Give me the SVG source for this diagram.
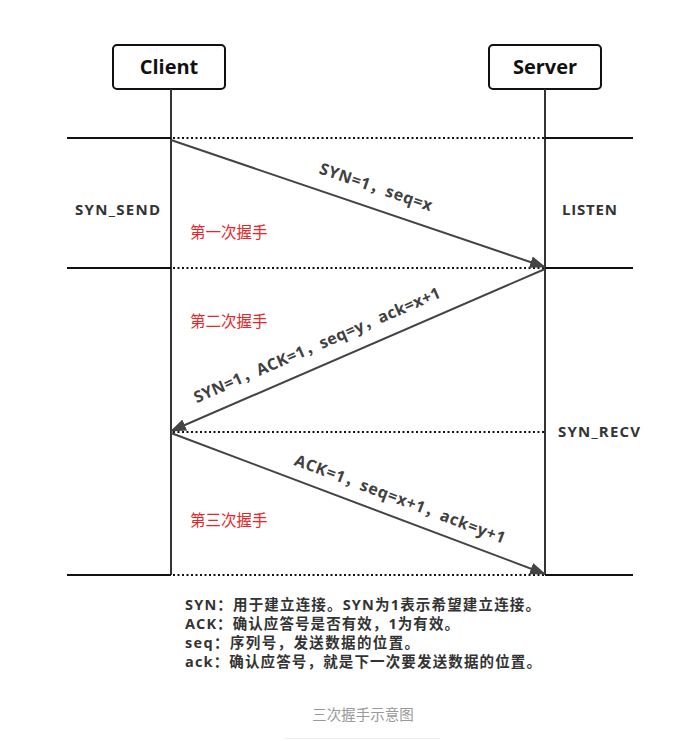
<svg xmlns="http://www.w3.org/2000/svg" width="696" height="741" viewBox="0 0 696 741">
<style>
.box{fill:#fff;stroke:#111;stroke-width:2}
.title{font-family:"Open Sans","Noto Sans CJK SC",sans-serif;font-weight:bold;font-size:20px;fill:#111;text-anchor:middle}
.life{stroke:#333;stroke-width:2;fill:none}
.solid{stroke:#111;stroke-width:2}
.dot{stroke:#111;stroke-width:2;stroke-dasharray:2 2.5}
.arr{stroke:#444;stroke-width:2;fill:none;marker-end:url(#ah)}
.lbl{font-family:"Open Sans","Noto Sans CJK SC",sans-serif;font-weight:bold;font-size:16px;fill:#404040;text-anchor:middle}
.state{font-family:"Open Sans","Noto Sans CJK SC",sans-serif;font-weight:bold;font-size:15px;fill:#333}
.red{font-family:"Noto Sans CJK SC",sans-serif;font-size:15.5px;fill:#e8262a}
.note{font-family:"Open Sans","Noto Sans CJK SC",sans-serif;font-weight:bold;font-size:14.5px;fill:#333}
.cap{font-family:"Noto Sans CJK SC",sans-serif;font-size:14.5px;fill:#999;text-anchor:middle}
</style>
<defs>
<marker id="ah" markerWidth="16" markerHeight="12" refX="15" refY="6" orient="auto" markerUnits="userSpaceOnUse">
<path d="M0,0 L16,6 L0,12 Z" fill="#444"/>
</marker>
</defs>
<rect width="696" height="741" fill="#fff"/>
<g id="client">
<rect class="box" x="113" y="45" width="112" height="44" rx="4"/>
<text class="title" x="169" y="74">Client</text>
</g>
<g id="server">
<rect class="box" x="489" y="45" width="112" height="44" rx="4"/>
<text class="title" x="545" y="74">Server</text>
</g>
<g id="lifelines">
<line class="life" x1="171" y1="89" x2="171" y2="575"/>
<line class="life" x1="545" y1="89" x2="545" y2="575"/>
</g>
<g id="phases">
<line class="solid" x1="67" y1="138" x2="171" y2="138"/>
<line class="dot" x1="173" y1="138" x2="544" y2="138"/>
<line class="solid" x1="545" y1="138" x2="633" y2="138"/>
<line class="solid" x1="67" y1="268" x2="171" y2="268"/>
<line class="dot" x1="173" y1="268" x2="544" y2="268"/>
<line class="solid" x1="545" y1="268" x2="633" y2="268"/>
<line class="dot" x1="173" y1="432" x2="544" y2="432"/>
<line class="solid" x1="67" y1="575" x2="171" y2="575"/>
<line class="dot" x1="173" y1="575" x2="544" y2="575"/>
<line class="solid" x1="545" y1="575" x2="633" y2="575"/>
</g>
<g id="connectors">
<line class="arr" x1="171" y1="140" x2="545" y2="267"/>
<line class="arr" x1="545" y1="269" x2="171" y2="431"/>
<line class="arr" x1="171" y1="433" x2="545" y2="574"/>
</g>
<g id="labels">
<text class="lbl" x="376" y="187" dy="0.35em" textLength="118" lengthAdjust="spacing" transform="rotate(18.8 376 187)">SYN=1，seq=x</text>
<text class="lbl" x="317" y="345" dy="0.35em" textLength="267" lengthAdjust="spacing" transform="rotate(-23.4 317 345)">SYN=1，ACK=1，seq=y，ack=x+1</text>
<text class="lbl" x="400" y="499" dy="0.35em" textLength="224" lengthAdjust="spacing" transform="rotate(20.7 400 499)">ACK=1，seq=x+1，ack=y+1</text>
</g>
<g id="states">
<text class="state" x="75" y="215" textLength="85" lengthAdjust="spacing">SYN_SEND</text>
<text class="state" x="562" y="215" textLength="55" lengthAdjust="spacing">LISTEN</text>
<text class="state" x="558" y="437" textLength="82" lengthAdjust="spacing">SYN_RECV</text>
</g>
<g id="steps">
<text class="red" x="190" y="238">第一次握手</text>
<text class="red" x="190" y="327">第二次握手</text>
<text class="red" x="190" y="526">第三次握手</text>
</g>
<g id="notes">
<text class="note" x="185" y="610" textLength="355" lengthAdjust="spacing">SYN：用于建立连接。SYN为1表示希望建立连接。</text>
<text class="note" x="185" y="629" textLength="274" lengthAdjust="spacing">ACK：确认应答号是否有效，1为有效。</text>
<text class="note" x="185" y="648" textLength="234" lengthAdjust="spacing">seq：序列号，发送数据的位置。</text>
<text class="note" x="185" y="667" textLength="356" lengthAdjust="spacing">ack：确认应答号，就是下一次要发送数据的位置。</text>
</g>
<g id="caption">
<text class="cap" x="363" y="720">三次握手示意图</text>
<line x1="285" y1="738.5" x2="440" y2="738.5" stroke="#eee" stroke-width="1"/>
</g>
</svg>
